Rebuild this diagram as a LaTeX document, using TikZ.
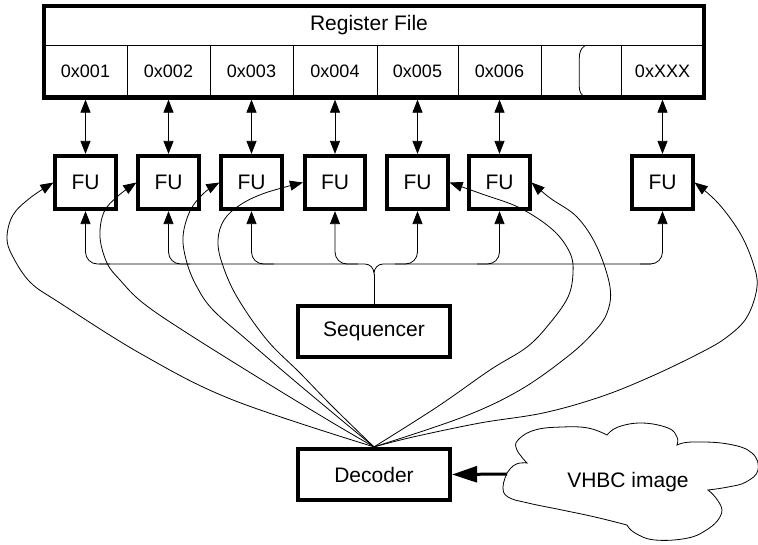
\documentclass[tikz,border=0pt]{standalone}
\usepackage{fontspec}
\setmainfont{Liberation Sans}
\usetikzlibrary{arrows.meta,calc}
\begin{document}
\begin{tikzpicture}[x=1pt,y=-1pt,
  wireline/.style={line width=0.8pt},
  boxstyle/.style={draw, line width=3.8pt, rectangle, inner sep=0pt},
  fubox/.style={boxstyle, minimum width=60.4pt, minimum height=53.4pt, font=\fontsize{21}{25}\selectfont},
  bigbox/.style={boxstyle, minimum width=152.4pt, minimum height=51.4pt, font=\fontsize{21}{25}\selectfont},
  cell/.style={draw, line width=0.8pt, minimum height=51.8pt, inner sep=0pt, font=\fontsize{18}{22}\selectfont},
  sarrow/.style={-{Triangle[length=13pt,width=10pt]}},
  darrow/.style={{Triangle[length=13pt,width=10pt]}-{Triangle[length=13pt,width=10pt]}},
]
\useasboundingbox (0,0) rectangle (758,544);

% register file cells
\foreach \n/\x/\w/\t in {1/85.5/83/0x001, 2/168.5/83/0x002, 3/251.5/83/0x003, 4/335/84/0x004,
                         5/417.5/81/0x005, 6/499.5/83/0x006, 7/581/80/{}, 8/662.5/83/0xXXX}
  \node[cell, minimum width=\w pt] (c\n) at (\x,71.6) {\t};
\draw[wireline] (584.5,46) .. controls (581,48.5) and (579.3,52) .. (579.3,58) -- (579.3,87)
  .. controls (579.3,92) and (581.5,95.5) .. (585.5,97.5);
\node[draw, line width=4.3pt, minimum width=660pt, minimum height=91.3pt, inner sep=0pt] (rf) at (374,51.85) {};
\node[font=\fontsize{21}{25}\selectfont] (rftitle) at (369,25.5) {Register File};

% functional units
\foreach \n/\c/\x in {1/1/85.5, 2/2/168.5, 3/3/251.5, 4/4/335, 5/5/417.5, 6/6/499.5, 7/8/662.5}{
  \node[fubox] (fu\n) at (\x,182.5) {FU};
  \draw[wireline, darrow] (c\c.south |- rf.south) -- (fu\n.north);
}

% sequencer and decoder
\node[bigbox] (seq) at (374,331.5) {Sequencer};
\node[bigbox] (dec) at (374,474.5) {Decoder};

% sequencer bus
\coordinate (j) at (374,273.5);
\draw[wireline] (seq.north) -- (j);
\draw[wireline] (99,264) -- (365,264) to[out=0,in=90] (j) to[out=90,in=180] (383,264) -- (651,264);
\foreach \n/\s in {1/110, 2/190, 3/274, 4/358, 5/395, 6/477, 7/640}
  \draw[wireline, sarrow, rounded corners=12pt] (\s,264) -| (fu\n.south);

% decoder to FUs
\draw[wireline, sarrow] plot[smooth, tension=0.6] coordinates
  {(dec.north) (233,400) (143,355) (60,303) (30,282) (12,255) (7,237) (13,215) (30,198) (fu1.west)};
\draw[wireline, sarrow] plot[smooth, tension=0.6] coordinates
  {(dec.north) (333,423) (267,383) (187,333) (143,303) (120,280) (107,263) (100,237) (104,212) (118,196) (fu2.west)};
\draw[wireline, sarrow] plot[smooth, tension=0.6] coordinates
  {(dec.north) (333,413) (290,377) (247,340) (213,310) (197,287) (187,263) (183,237) (190,211) (204,193) (fu3.west)};
\draw[wireline, sarrow] plot[smooth, tension=0.6] coordinates
  {(dec.north) (333,407) (300,373) (267,340) (237,297) (222,263) (218,240) (224,220) (240,205) (265,193) (fu4.west)};
\draw[wireline, sarrow] plot[smooth, tension=0.6] coordinates
  {(dec.north) (437,407) (490,370) (527,347) (550,323) (568,297) (573,273) (570,253) (553,230) (520,208) (482,194) (fu5.east)};
\draw[wireline, sarrow] plot[smooth, tension=0.6] coordinates
  {(dec.north) (463,417) (520,390) (567,357) (593,333) (607,313) (610,287) (597,247) (577,217) (550,198) (fu6.east)};
\draw[wireline, sarrow] plot[smooth, tension=0.6] coordinates
  {(dec.north) (413,437) (480,423) (543,413) (600,397) (650,377) (700,353) (727,337) (747,317) (757,287) (753,263) (740,233) (718,203) (fu7.east)};

% VHBC image cloud
\draw[wireline] plot[smooth, tension=0.7] coordinates {(507,473) (513,466) (520,463) (527,463)}
  -- plot[smooth, tension=0.7] coordinates {(527,463) (517,450) (518,440) (535,430) (562,427) (588,428) (607,435)}
  -- plot[smooth, tension=0.7] coordinates {(607,435) (618,427) (642,423) (668,428) (677,437) (677,445)}
  -- plot[smooth, tension=0.7] coordinates {(677,445) (692,442) (728,444) (752,453) (758,470) (746,482) (728,487) (708,490)}
  -- plot[smooth, tension=0.7] coordinates {(708,490) (716,498) (722,510) (718,520)}
  -- plot[smooth, tension=0.7] coordinates {(718,520) (708,529) (688,538) (655,540) (635,533) (627,525)}
  -- plot[smooth, tension=0.7] coordinates {(627,525) (595,517) (562,510) (528,503) (508,497) (503,487) (507,473)}
  -- cycle;
\node[font=\fontsize{21}{25}\selectfont] (vhbc) at (628,482) {VHBC image};
\coordinate (cin) at (507,474);
\draw[line width=3pt, -{Triangle[length=25pt,width=16pt]}] (cin) -- (dec.east);
\end{tikzpicture}
\end{document}
